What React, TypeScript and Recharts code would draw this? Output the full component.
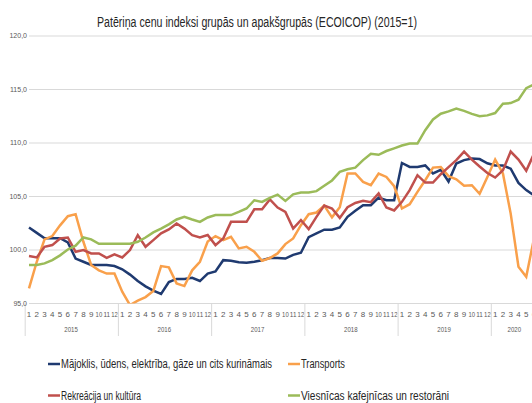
import { LineChart, Line, XAxis, YAxis, CartesianGrid } from "recharts";

const years = ["2015", "2016", "2017", "2018", "2019", "2020"];
const monthsShown = [12, 12, 12, 12, 12, 6];

// Mājoklis, ūdens, elektrība, gāze un cits kurināmais
const housing = [
  102.1, 101.6, 101.1, 101.1, 101.1, 100.7, 99.2, 98.9, 98.6, 98.6, 98.6, 98.5,
  98.2, 97.7, 97.1, 96.6, 96.2, 95.9, 97.0, 97.3, 97.3, 97.4, 97.1, 97.8,
  98.0, 99.05, 99.0, 98.85, 98.8, 98.9, 99.05, 99.25, 99.25, 99.2, 99.55, 99.74,
  101.2, 101.55, 101.9, 101.9, 102.1, 103.1, 103.66, 104.19, 104.19, 104.9, 104.65, 104.65,
  108.13, 107.76, 107.76, 107.9, 107.15, 107.5, 106.4, 108.08, 108.4, 108.55, 108.5, 108.1,
  107.9, 107.9, 107.6, 106.27, 105.6, 105.1,
];
// Transports
const transport = [
  96.42, 98.9, 100.99, 101.3, 102.3, 103.16, 103.35, 100.77, 98.6, 98.1, 97.8, 97.8,
  96.1, 94.85, 95.26, 95.6, 96.17, 98.5, 98.38, 96.88, 96.63, 98.1, 98.9, 100.8,
  101.3, 100.92, 101.23, 100.15, 100.3, 99.83, 98.99, 99.25, 99.68, 100.55, 101.08, 102.32,
  103.35, 103.5, 104.15, 103.05, 104.0, 107.15, 107.15, 106.37, 106.05, 107.15, 106.83, 105.96,
  103.88, 104.28, 105.43, 106.52, 107.7, 107.76, 106.9, 106.6, 106.0, 106.05, 105.25, 106.83,
  108.45, 107.15, 103.4, 98.43, 97.5, 101.08,
];
// Rekreācija un kultūra
const recreation = [
  99.43, 99.3, 100.3, 100.46, 101.08, 101.17, 99.83, 99.99, 99.68, 99.68, 99.27, 99.59,
  99.3, 99.99, 101.39, 100.3, 100.92, 101.55, 101.92, 102.48, 102.0, 101.39, 101.17, 101.4,
  100.46, 101.08, 102.63, 102.63, 102.63, 103.8, 103.8, 104.72, 103.97, 103.56, 102.0, 102.8,
  101.95, 103.1, 104.15, 103.88, 103.0, 104.0, 104.4, 104.59, 104.47, 105.28, 103.97, 103.7,
  104.5, 105.59, 106.99, 106.3, 106.3, 107.08, 107.75, 108.4, 109.2, 108.45, 107.8, 107.2,
  106.77, 107.45, 109.2, 108.45, 107.4, 109.0,
];
// Viesnīcas kafejnīcas un restorāni
const hospitality = [
  98.59, 98.6, 98.75, 99.06, 99.5, 100.05, 100.4, 101.17, 100.99, 100.58, 100.58, 100.58,
  100.58, 100.58, 100.77, 101.17, 101.64, 102.0, 102.4, 102.85, 103.1, 102.85, 102.63, 103.04,
  103.26, 103.26, 103.26, 103.56, 103.88, 104.65, 104.5, 104.87, 105.18, 104.59, 105.2, 105.37,
  105.37, 105.5, 106.0, 106.5, 107.3, 107.55, 107.7, 108.4, 109.0, 108.9, 109.25, 109.5,
  109.76, 109.95, 109.95, 111.2, 112.2, 112.74, 112.95, 113.22, 113.0, 112.72, 112.5, 112.58,
  112.8, 113.67, 113.73, 114.05, 115.13, 115.48,
];

const yTicks = [95, 100, 105, 110, 115, 120];

const data: any[] = [];
years.forEach((yr, yi) => {
  for (let m = 1; m <= monthsShown[yi]; m++) {
    const i = data.length;
    data.push({
      key: `${yr}-${m}`,
      housing: housing[i],
      transport: transport[i],
      recreation: recreation[i],
      hospitality: hospitality[i],
    });
  }
});

const CHART_W = 534;
const PLOT_LEFT = 29;
const BAND = (CHART_W - PLOT_LEFT) / data.length;
const TICK_COLOR = "#595959";
const GRID_COLOR = "#d9d9d9";

function MonthTick(props: any) {
  const { x, payload } = props;
  const [yr, mStr] = String(payload.value).split("-");
  const m = Number(mStr);
  const yi = years.indexOf(yr);
  const left = x - BAND / 2;
  return (
    <g>
      <text
        x={x}
        y={316.5}
        textAnchor="middle"
        fontSize={8}
        fill={TICK_COLOR}
        {...(mStr.length > 1 ? { textLength: 6.6, lengthAdjust: "spacingAndGlyphs" } : {})}
      >
        {mStr}
      </text>
      {m === 1 && (
        <>
          <line x1={left} x2={left} y1={303.5} y2={336} stroke={GRID_COLOR} strokeWidth={1} />
          <text
            x={left + (monthsShown[yi] * BAND) / 2}
            y={331.5}
            textAnchor="middle"
            fontSize={8}
            fill={TICK_COLOR}
            textLength={13.5}
            lengthAdjust="spacingAndGlyphs"
          >
            {yr}
          </text>
        </>
      )}
    </g>
  );
}

const legendItems = [
  { label: "Mājoklis, ūdens, elektrība, gāze un cits kurināmais", color: "#1f3a70", x: 48, y: 364, len: 211 },
  { label: "Transports", color: "#f9a04b", x: 288, y: 364, len: 44 },
  { label: "Rekreācija un kultūra", color: "#c0504d", x: 48, y: 395.5, len: 80 },
  { label: "Viesnīcas kafejnīcas un restorāni", color: "#9bbb59", x: 288, y: 395.5, len: 148 },
];

export default function App() {
  return (
    <div
      style={{
        position: "absolute",
        left: 0,
        top: 0,
        width: 532,
        height: 403,
        overflow: "hidden",
        background: "#ffffff",
        fontFamily: "'Liberation Sans', Arial, sans-serif",
      }}
    >
      <LineChart
        width={CHART_W}
        height={340}
        data={data}
        margin={{ top: 36, right: 0, left: 0, bottom: 6.5 }}
      >
        <CartesianGrid horizontal vertical={false} stroke={GRID_COLOR} strokeWidth={1.2} />
        <XAxis
          dataKey="key"
          interval={0}
          height={30}
          axisLine={false}
          tickLine={false}
          tick={<MonthTick />}
        />
        <YAxis
          width={PLOT_LEFT}
          domain={[95, 120]}
          ticks={yTicks}
          allowDataOverflow
          axisLine={false}
          tickLine={false}
          tickSize={0}
          tickMargin={2}
          tick={{ fontSize: 7, fill: TICK_COLOR }}
          tickFormatter={(v: number) => v.toFixed(1).replace(".", ",")}
        />
        <Line dataKey="housing" stroke="#1f3a70" strokeWidth={2.5} dot={false} isAnimationActive={false} />
        <Line dataKey="transport" stroke="#f9a04b" strokeWidth={2.5} dot={false} isAnimationActive={false} />
        <Line dataKey="recreation" stroke="#c0504d" strokeWidth={2.5} dot={false} isAnimationActive={false} />
        <Line dataKey="hospitality" stroke="#9bbb59" strokeWidth={2.5} dot={false} isAnimationActive={false} />
      </LineChart>

      <svg
        width={532}
        height={403}
        style={{ position: "absolute", left: 0, top: 0, pointerEvents: "none" }}
      >
        <text
          x={97}
          y={27}
          fontSize={14}
          fill="#262626"
          textLength={320}
          lengthAdjust="spacingAndGlyphs"
        >
          Patēriņa cenu indeksi grupās un apakšgrupās (ECOICOP) (2015=1)
        </text>
        {legendItems.map((it) => (
          <g key={it.label}>
            <line x1={it.x} x2={it.x + 12} y1={it.y} y2={it.y} stroke={it.color} strokeWidth={2.5} />
            <text
              x={it.x + 13}
              y={it.y + 4.3}
              fontSize={12}
              fill="#262626"
              textLength={it.len}
              lengthAdjust="spacingAndGlyphs"
            >
              {it.label}
            </text>
          </g>
        ))}
      </svg>
    </div>
  );
}
